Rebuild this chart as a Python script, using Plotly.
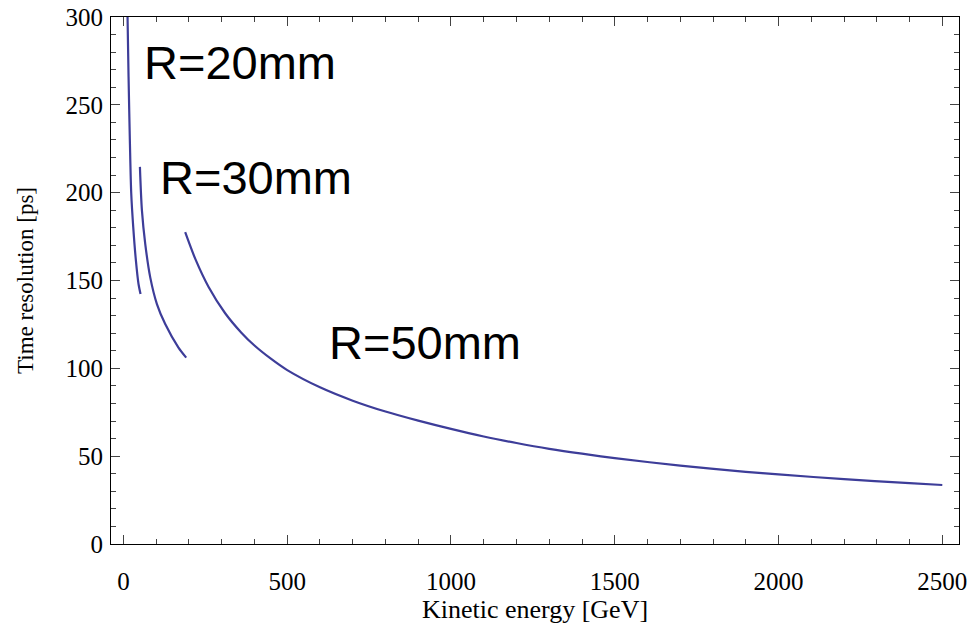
import plotly.graph_objects as go

# R = 20 mm
e20 = [12.5, 15.6, 19.8, 23.8, 29.9, 38.0, 46.0, 52.2]
t20 = [300.2, 266.0, 228.0, 199.5, 180.4, 161.4, 148.0, 142.3]

# R = 30 mm
e30 = [50.3, 56.4, 66.5, 81.8, 102.2, 127.5, 168.0, 191.6]
t30 = [214.7, 189.9, 170.9, 151.8, 136.6, 125.2, 111.8, 106.1]

# R = 50 mm
e50 = [188.5, 220, 260, 310, 360, 400, 450, 500, 600, 700, 800, 900, 1000, 1100,
       1200, 1300, 1400, 1500, 1700, 1900, 2000, 2200, 2400, 2500]
t50 = [177.5, 162.0, 146.3, 131.5, 120.3, 113.0, 105.5, 99.0, 89.2, 81.6, 75.4, 70.2,
       65.5, 61.2, 57.5, 54.2, 51.4, 48.9, 44.6, 41.1, 39.6, 36.9, 34.6, 33.6]

labels = ["R=20mm", "R=30mm", "R=50mm"]
label_x = [56, 107, 621]
label_y = [274, 208.5, 114.5]

color = "#3d3d99"

fig = go.Figure()
for ex, ty in [(e20, t20), (e30, t30), (e50, t50)]:
    fig.add_trace(go.Scatter(x=ex, y=ty, mode="lines",
                             line=dict(color=color, width=2.2, shape="spline", smoothing=0.8),
                             showlegend=False, hoverinfo="skip"))

for txt, lx, ly in zip(labels, label_x, label_y):
    fig.add_annotation(x=lx, y=ly, text=txt, showarrow=False,
                       xanchor="left", yanchor="middle",
                       font=dict(family="Liberation Sans, Arial", size=47, color="black"))

serif = "Liberation Serif, Times New Roman"
axis_common = dict(showline=True, linecolor="black", linewidth=1, mirror="allticks",
                   ticks="inside", ticklen=9, tickcolor="#444", tickwidth=1,
                   showgrid=False, zeroline=False,
                   tickfont=dict(family=serif, size=25, color="black"))

fig.update_xaxes(range=[-38, 2551], tick0=0, dtick=500,
                 minor=dict(dtick=100, ticks="inside", ticklen=5, tickcolor="#444", showgrid=False),
                 title=dict(text="Kinetic energy [GeV]",
                            font=dict(family=serif, size=26, color="black"),
                            standoff=3),
                 ticklabelstandoff=15,
                 **axis_common)
fig.update_yaxes(range=[0, 300], tick0=0, dtick=50,
                 minor=dict(dtick=10, ticks="inside", ticklen=5, tickcolor="#444", showgrid=False),
                 title=dict(text="Time resolution [ps]",
                            font=dict(family=serif, size=23, color="black"),
                            standoff=25),
                 ticklabelstandoff=2,
                 **axis_common)

fig.update_layout(width=976, height=626, plot_bgcolor="white", paper_bgcolor="white",
                  margin=dict(l=111, r=17, t=17, b=82, autoexpand=False))

fig.write_html("out.html", config={"displayModeBar": False},
               post_script="document.body.style.margin='0';")
